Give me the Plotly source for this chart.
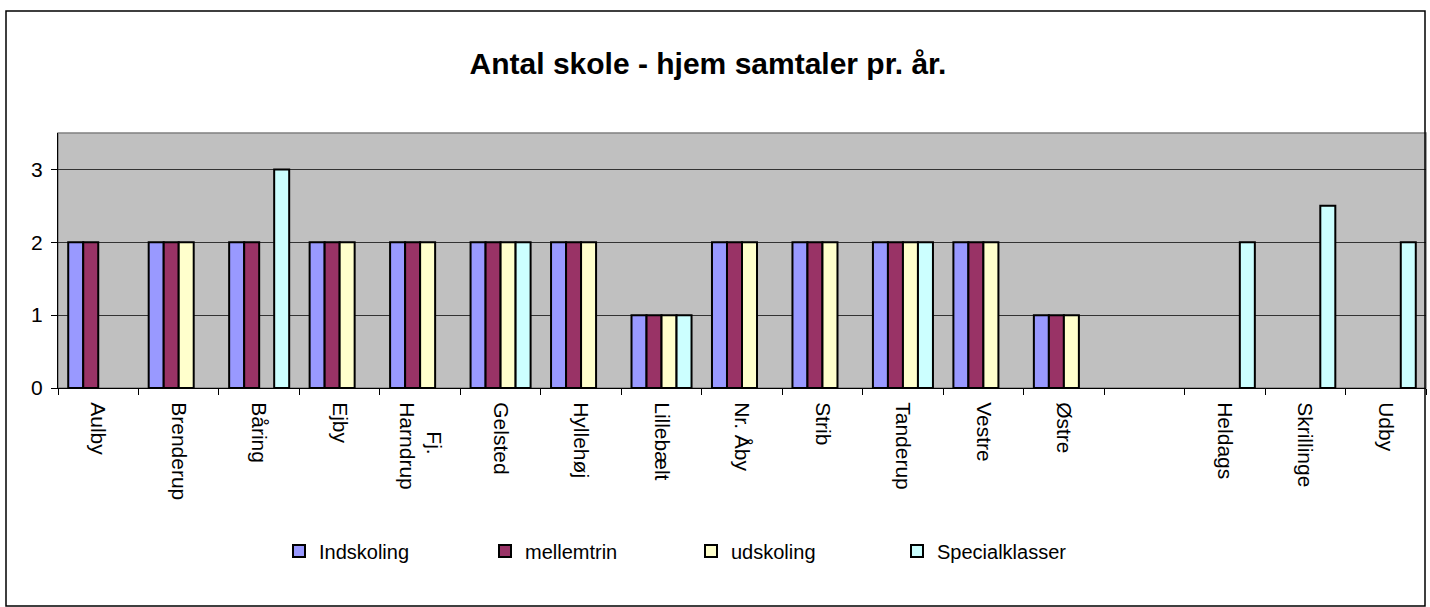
import plotly.graph_objects as go

categories = ["Aulby", "Brenderup", "Båring", "Ejby",
              "\u00a0\u00a0\u00a0\u00a0\u00a0Fj.<br>Harndrup", "Gelsted",
              "Hyllehøj", "Lillebælt", "Nr. Åby", "Strib", "Tanderup", "Vestre",
              "Østre", " ", "Heldags", "Skrillinge", "Udby"]
indskoling = [2, 2, 2, 2, 2, 2, 2, 1, 2, 2, 2, 2, 1, None, None, None, None]
mellemtrin = [2, 2, 2, 2, 2, 2, 2, 1, 2, 2, 2, 2, 1, None, None, None, None]
udskoling = [None, 2, None, 2, 2, 2, 2, 1, 2, 2, 2, 2, 1, None, None, None, None]
specialklasser = [None, None, 3, None, None, 2, None, 1, None, None, 2, None, None, None, 2, 2.5, 2]

series = [
    ("Indskoling", indskoling, "#9999FF"),
    ("mellemtrin", mellemtrin, "#993366"),
    ("udskoling", udskoling, "#FFFFCC"),
    ("Specialklasser", specialklasser, "#CCFFFF"),
]

FONT = "Liberation Sans, Arial, sans-serif"

fig = go.Figure()
for name, vals, col in series:
    fig.add_trace(go.Bar(
        x=categories, y=vals, name=name,
        marker=dict(color=col, line=dict(color="black", width=2)),
    ))

W, H = 1430, 607
L, R, T, B = 58, 1426, 133, 388
pw, ph = R - L, B - T

def px(x):
    return (x - L) / pw

def py(y):
    return (B - y) / ph

fig.update_layout(
    width=W, height=H,
    margin=dict(l=L, r=W - R, t=T, b=H - B),
    paper_bgcolor="white",
    plot_bgcolor="#C0C0C0",
    barmode="group",
    bargap=0.254,
    bargroupgap=0,
    font=dict(family=FONT, size=21, color="black"),
    title=dict(text="<b>Antal skole - hjem samtaler pr. år.</b>",
               font=dict(family=FONT, size=30, color="black"),
               x=708 / W, xref="container", xanchor="center",
               y=1 - 63 / H, yref="container", yanchor="middle"),
    showlegend=True,
    legend=dict(orientation="h", x=px(279), y=py(551), xanchor="left", yanchor="middle",
                font=dict(family=FONT, size=20, color="black"),
                entrywidth=161, entrywidthmode="pixels",
                bgcolor="rgba(0,0,0,0)", traceorder="normal"),
    xaxis=dict(type="category", tickangle=90, ticks="outside", ticklen=6,
               tickson="boundaries", tickcolor="black", showline=True,
               linecolor="black", linewidth=1, showgrid=False, ticklabelstandoff=9,
               tickfont=dict(family=FONT, size=21, color="black"), fixedrange=True),
    yaxis=dict(range=[0, 3.5], tickvals=[0, 1, 2, 3], ticks="outside", ticklen=6,
               tickcolor="black", showline=True, linecolor="black", linewidth=1,
               showgrid=True, gridcolor="#333333", gridwidth=1, zeroline=False,
               ticklabelstandoff=4,
               tickfont=dict(family=FONT, size=21, color="black"), fixedrange=True),
    shapes=[
        dict(type="rect", xref="paper", yref="paper", x0=0, x1=1, y0=0, y1=1,
             line=dict(color="#808080", width=1.5), layer="below"),
        dict(type="rect", xref="paper", yref="paper",
             x0=px(6), x1=px(1425), y0=py(606), y1=py(11),
             line=dict(color="black", width=1.5)),
    ],
)

fig.write_html("out.html", config={"displayModeBar": False},
               post_script="document.body.style.margin='0';")
